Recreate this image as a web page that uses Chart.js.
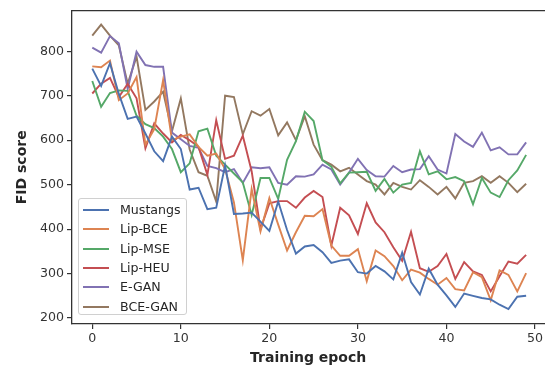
<!DOCTYPE html>
<html>
<head>
<meta charset="utf-8">
<script src="https://cdn.jsdelivr.net/npm/chart.js@4.4.1/dist/chart.umd.min.js"></script>
<style>
  html, body { margin: 0; padding: 0; background: #fff; overflow: hidden; }
  #wrap { position: relative; width: 545px; height: 368px; }
  #legend {
    position: absolute; left: 78px; top: 198px; width: 109px; height: 117px;
    box-sizing: border-box; border: 1px solid #d0d0d0; border-radius: 3px;
    background: rgba(255,255,255,0.85);
    font-family: "DejaVu Sans", sans-serif; font-size: 12.6px; color: #262626;
  }
  .row { position: absolute; left: 0; height: 19px; line-height: 19px; white-space: nowrap; }
  .swatch { position: absolute; left: 4px; top: 9px; width: 26px; height: 0; border-top: 2px solid; }
  .lbl { position: absolute; left: 41px; top: 0; }
</style>
</head>
<body>
<div id="wrap">
  <canvas id="c" width="545" height="368"></canvas>
  <div id="legend"></div>
</div>
<script>
const epochs = Array.from({length: 50}, (_, i) => i);

const mustangs = [761, 722, 773, 704, 648, 653, 615, 575, 553, 608, 580, 489, 493, 445, 448, 543, 434, 435, 437, 417, 396, 462, 398, 345, 361, 364, 348, 324, 329, 332, 303, 300, 317, 305, 287, 347, 281, 253, 311, 275, 251, 225, 255, 250, 245, 242, 230, 220, 248, 250];
const lipBCE = [766, 764, 779, 690, 705, 742, 590, 625, 735, 600, 608, 613, 585, 565, 570, 535, 460, 330, 490, 395, 470, 410, 352, 393, 430, 429, 445, 363, 340, 340, 355, 283, 352, 339, 317, 285, 309, 302, 288, 275, 290, 265, 262, 303, 292, 240, 307, 297, 260, 301];
const lipMSE = [733, 675, 706, 712, 711, 655, 636, 627, 608, 580, 528, 548, 620, 626, 565, 545, 525, 505, 432, 515, 515, 468, 556, 598, 664, 643, 555, 540, 503, 527, 528, 529, 486, 513, 482, 500, 504, 575, 523, 530, 512, 517, 508, 456, 515, 482, 472, 510, 532, 567];
const lipHEU = [705, 727, 740, 697, 727, 694, 582, 638, 615, 595, 612, 600, 585, 522, 645, 558, 565, 610, 530, 400, 458, 463, 463, 448, 471, 486, 472, 363, 448, 431, 389, 458, 415, 393, 359, 329, 394, 312, 304, 317, 344, 288, 326, 305, 297, 260, 294, 327, 322, 342];
const eGAN = [808, 797, 834, 818, 715, 799, 769, 765, 765, 617, 602, 587, 583, 542, 537, 528, 535, 504, 539, 537, 539, 504, 500, 519, 518, 523, 545, 534, 500, 527, 558, 533, 519, 518, 542, 528, 534, 535, 564, 534, 525, 614, 597, 585, 617, 577, 584, 568, 568, 595];
const bceGAN = [835, 860, 835, 813, 727, 788, 668, 687, 709, 620, 694, 579, 528, 520, 462, 700, 697, 613, 665, 655, 670, 611, 640, 600, 654, 590, 555, 545, 530, 538, 523, 508, 500, 478, 504, 495, 489, 510, 495, 478, 495, 469, 504, 508, 519, 504, 519, 504, 483, 502];

const seriesNames = ["Mustangs", "Lip-BCE", "Lip-MSE", "Lip-HEU", "E-GAN", "BCE-GAN"];
const seriesValues = [mustangs, lipBCE, lipMSE, lipHEU, eGAN, bceGAN];
const seriesColors = ["#4C72B0", "#DD8452", "#55A868", "#C44E52", "#8172B3", "#937860"];

const xTicks = [0, 10, 20, 30, 40, 50];
const yTicks = [200, 300, 400, 500, 600, 700, 800];

const datasets = seriesNames.map((name, k) => ({
  label: name,
  data: seriesValues[k].map((v, i) => ({x: epochs[i], y: v})),
  borderColor: seriesColors[k],
  backgroundColor: seriesColors[k],
  borderWidth: 1.9,
  pointRadius: 0,
  tension: 0,
  fill: false
}));

const frame = {
  id: 'frame',
  afterDraw(chart) {
    const {ctx, chartArea: a} = chart;
    ctx.save();
    ctx.strokeStyle = '#333';
    ctx.lineWidth = 1.3;
    ctx.beginPath();
    ctx.moveTo(a.left, a.top);
    ctx.lineTo(a.right + 2, a.top);
    ctx.stroke();
    ctx.restore();
  }
};

const tickFont = {family: "DejaVu Sans", size: 12.6};
const titleFont = {family: "DejaVu Sans", size: 14, weight: 'bold'};

new Chart(document.getElementById('c'), {
  type: 'line',
  data: {datasets},
  options: {
    responsive: false,
    animation: false,
    layout: {padding: {top: 8, left: 0, right: 0, bottom: 0}},
    plugins: {legend: {display: false}, tooltip: {enabled: false}},
    scales: {
      x: {
        type: 'linear',
        min: -2.29, max: 51.05,
        afterBuildTicks: s => { s.ticks = xTicks.map(v => ({value: v})); },
        afterFit: s => { s.height = 44; },
        grid: {display: true, drawOnChartArea: false, drawTicks: true, tickLength: 5, color: '#333', lineWidth: 1.2},
        border: {display: true, color: '#333', width: 1.3},
        ticks: {font: tickFont, color: '#333', padding: 2, maxRotation: 0},
        title: {display: true, text: 'Training epoch', font: titleFont, color: '#262626', padding: {top: 0, bottom: 1}}
      },
      y: {
        type: 'linear',
        min: 186.6, max: 891.5,
        afterBuildTicks: s => { s.ticks = yTicks.map(v => ({value: v})); },
        afterFit: s => { s.width = 72; },
        grid: {display: true, drawOnChartArea: false, drawTicks: true, tickLength: 5, color: '#333', lineWidth: 1.2},
        border: {display: true, color: '#333', width: 1.3},
        ticks: {font: tickFont, color: '#333', padding: 3},
        title: {display: true, text: 'FID score', font: titleFont, color: '#262626', padding: {top: 14, bottom: 0}}
      }
    }
  },
  plugins: [frame]
});

const legend = document.getElementById('legend');
seriesNames.forEach((name, k) => {
  const row = document.createElement('div');
  row.className = 'row';
  row.style.top = (1 + k * 19.3) + 'px';
  row.style.width = '100%';
  const sw = document.createElement('div');
  sw.className = 'swatch';
  sw.style.borderTopColor = seriesColors[k];
  const lb = document.createElement('span');
  lb.className = 'lbl';
  lb.textContent = name;
  row.appendChild(sw); row.appendChild(lb);
  legend.appendChild(row);
});
</script>
</body>
</html>
